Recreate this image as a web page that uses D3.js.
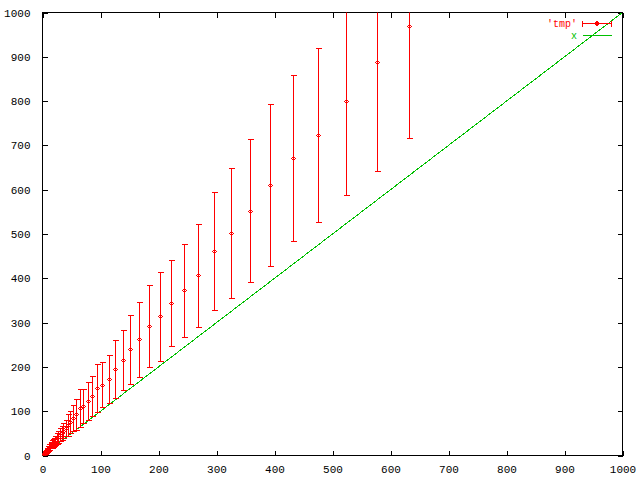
<!DOCTYPE html>
<html>
<head>
<meta charset="utf-8">
<script src="https://cdn.jsdelivr.net/npm/d3@7/dist/d3.min.js"></script>
<style>
  html, body { margin: 0; padding: 0; background: #fff; }
  svg { display: block; }
  text { font-family: "Liberation Mono", monospace; font-size: 11px; }
</style>
</head>
<body>
<div id="chart"></div>
<script>
// data: x, y and symmetric y error
const xValues = [1, 2, 3, 4, 5, 6, 7, 8, 9, 10, 11, 12,
  14, 15, 17, 18, 20, 22, 25, 27, 30, 33, 36, 40, 44, 48,
  53, 58, 64, 70, 78, 85, 94, 103, 114, 125,
  138, 151, 167, 183, 202, 222, 244, 268, 295, 325,
  357, 393, 432, 475, 523, 576, 632];
const yValues = [2, 3, 5, 6, 8, 9, 11, 12, 14, 16, 17, 19,
  22, 23, 26, 28, 31, 34, 39, 42, 47, 51, 56, 62, 69, 76,
  85, 93, 107, 111, 123, 135, 152, 160, 172, 195,
  215, 240, 262, 292, 314, 344, 373, 407, 461, 502,
  553, 610, 671, 723, 800, 889, 970];
const yErrors = [1, 1, 1, 2, 2, 3, 3, 4, 4, 5, 5, 6,
  6, 7, 8, 9, 9, 10, 12, 13, 14, 16, 17, 19, 24, 25,
  30, 35, 42, 38, 43, 45, 54, 50, 54, 65,
  68, 78, 85, 93, 100, 97, 105, 116, 133, 147,
  162, 183, 187, 196, 212, 246, 254];
const lineEnds = [0, 1000];  // the "x" function, y = x
const tickValues = [0, 100, 200, 300, 400, 500, 600, 700, 800, 900, 1000];

const width = 640, height = 480;
const plotLeft = 42.5, plotRight = 622.5, plotTop = 12.5, plotBottom = 455.5;
const red = "#ff0000", green = "#00c000";

const points = xValues.map((x, i) => ({ x: x, y: yValues[i], dy: yErrors[i] }));

const svg = d3.select("#chart").append("svg")
    .attr("width", width)
    .attr("height", height);

const x = d3.scaleLinear().domain([0, 1000]).range([plotLeft, plotRight]);
const y = d3.scaleLinear().domain([0, 1000]).range([plotBottom, plotTop]);

svg.append("clipPath").attr("id", "plot-clip")
  .append("rect")
    .attr("x", plotLeft).attr("y", plotTop)
    .attr("width", plotRight - plotLeft).attr("height", plotBottom - plotTop);

// axes with inward ticks on all four sides
const tickLen = 5;
const fmt = d3.format("d");
svg.append("g")
    .attr("transform", `translate(0,${plotBottom})`)
    .call(d3.axisBottom(x).tickValues(tickValues).tickFormat(fmt).tickSizeInner(-tickLen).tickSizeOuter(0).tickPadding(10));
svg.append("g")
    .attr("transform", `translate(${plotLeft},0)`)
    .call(d3.axisLeft(y).tickValues(tickValues).tickFormat(fmt).tickSizeInner(-tickLen).tickSizeOuter(0).tickPadding(12));
svg.append("g")
    .attr("transform", `translate(0,${plotTop})`)
    .call(d3.axisTop(x).tickValues(tickValues).tickSizeInner(-tickLen).tickSizeOuter(0).tickFormat(""));
svg.append("g")
    .attr("transform", `translate(${plotRight},0)`)
    .call(d3.axisRight(y).tickValues(tickValues).tickSizeInner(-tickLen).tickSizeOuter(0).tickFormat(""));

svg.selectAll(".domain").remove();
svg.selectAll(".tick line").attr("stroke", "#000").attr("shape-rendering", "crispEdges");
svg.selectAll(".tick text")
    .attr("fill", "#000")
    .style("font-family", "'Liberation Mono', monospace")
    .style("font-size", "11px");

// border
svg.append("rect")
    .attr("x", plotLeft).attr("y", plotTop)
    .attr("width", plotRight - plotLeft).attr("height", plotBottom - plotTop)
    .attr("fill", "none")
    .attr("stroke", "#000")
    .attr("shape-rendering", "crispEdges");

const plot = svg.append("g").attr("clip-path", "url(#plot-clip)");

// y = x line
plot.append("line")
    .attr("x1", x(lineEnds[0])).attr("y1", y(lineEnds[0]))
    .attr("x2", x(lineEnds[1])).attr("y2", y(lineEnds[1]))
    .attr("stroke", green)
    .attr("stroke-width", 1)
    .attr("shape-rendering", "crispEdges");

// error bars
const cap = 3;
const px = v => Math.round(x(v)) + 0.5;
const py = v => Math.round(y(v)) + 0.5;

const bars = plot.append("g")
    .attr("stroke", red)
    .attr("fill", "none")
    .attr("shape-rendering", "crispEdges")
    .selectAll("g")
    .data(points)
    .join("g");

bars.append("line")
    .attr("x1", d => px(d.x))
    .attr("x2", d => px(d.x))
    .attr("y1", d => py(d.y - d.dy))
    .attr("y2", d => py(d.y + d.dy));

bars.append("line")
    .attr("x1", d => px(d.x) - cap)
    .attr("x2", d => px(d.x) + cap)
    .attr("y1", d => py(d.y - d.dy))
    .attr("y2", d => py(d.y - d.dy));

bars.append("line")
    .attr("x1", d => px(d.x) - cap)
    .attr("x2", d => px(d.x) + cap)
    .attr("y1", d => py(d.y + d.dy))
    .attr("y2", d => py(d.y + d.dy));

const diamond = (cx, cy, r) => `M${cx - r},${cy}L${cx},${cy - r}L${cx + r},${cy}L${cx},${cy + r}Z`;

bars.append("path")
    .attr("d", d => diamond(px(d.x), py(d.y), 2));

// legend
const legend = svg.append("g");
const ly1 = 23.5, ly2 = 35.5, lx1 = 582.5, lx2 = 611.5;

legend.append("text")
    .attr("x", 577).attr("y", ly1)
    .attr("dy", "0.32em")
    .attr("text-anchor", "end")
    .attr("fill", red)
    .style("font-size", "10px")
    .text("'tmp'");

const lg = legend.append("g").attr("stroke", red).attr("fill", "none").attr("shape-rendering", "crispEdges");
lg.append("line").attr("x1", lx1).attr("x2", lx2).attr("y1", ly1).attr("y2", ly1);
lg.append("line").attr("x1", lx1).attr("x2", lx1).attr("y1", ly1 - cap).attr("y2", ly1 + cap);
lg.append("line").attr("x1", lx2).attr("x2", lx2).attr("y1", ly1 - cap).attr("y2", ly1 + cap);
lg.append("path").attr("d", diamond((lx1 + lx2) / 2, ly1, 2));

legend.append("text")
    .attr("x", 577).attr("y", ly2)
    .attr("dy", "0.32em")
    .attr("text-anchor", "end")
    .attr("fill", green)
    .style("font-size", "10px")
    .text("x");

legend.append("line")
    .attr("x1", lx1).attr("x2", lx2)
    .attr("y1", ly2).attr("y2", ly2)
    .attr("stroke", green)
    .attr("shape-rendering", "crispEdges");
</script>
</body>
</html>
